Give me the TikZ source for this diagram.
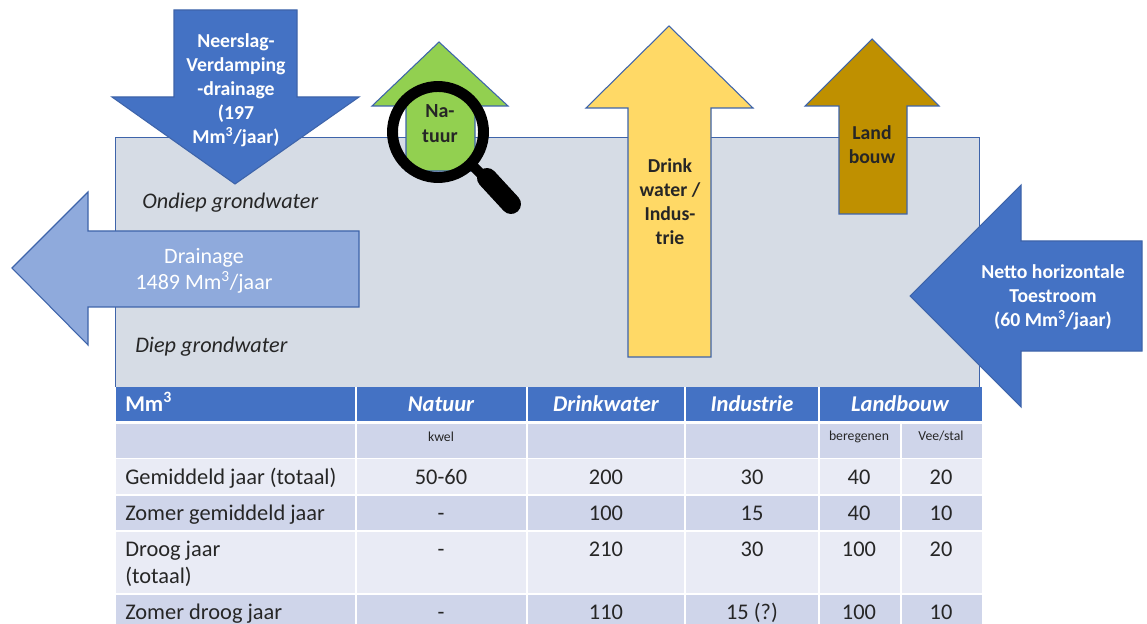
\documentclass[tikz,border=0pt]{standalone}
\usepackage{fontspec}
\setmainfont{Carlito}
\definecolor{blueA}{HTML}{4472C4}
\definecolor{edgeB}{HTML}{3E64AA}
\definecolor{blueL}{HTML}{8FAADC}
\definecolor{greyG}{HTML}{D6DCE5}
\definecolor{greenN}{HTML}{92D050}
\definecolor{yellowD}{HTML}{FFD966}
\definecolor{brownL}{HTML}{BF9000}
\definecolor{rowA}{HTML}{CFD5EA}
\definecolor{rowB}{HTML}{E9EBF5}
\definecolor{inkT}{HTML}{262626}
\tikzset{
 flow/.style={draw=edgeB,line width=0.8pt,line join=miter},
 lab/.style={align=center,font=\fontsize{14.8}{18}\selectfont\bfseries,inner sep=0,text=white},
 labd/.style={lab,text=inkT},
 capt/.style={font=\fontsize{16.7}{20}\selectfont\itshape,inner sep=0,text=inkT},
 hd/.style={font=\fontsize{16.9}{20}\selectfont\bfseries\itshape,text=white,inner sep=0},
 cellt/.style={font=\fontsize{16.8}{20}\selectfont,text=inkT,inner sep=0,anchor=base},
 rowl/.style={font=\fontsize{16.8}{20.25}\selectfont,text=inkT,inner sep=0,anchor=base west,align=left},
 smallt/.style={font=\fontsize{10.3}{12}\selectfont,text=inkT,inner sep=0,anchor=base},
}
\begin{document}
\begin{tikzpicture}[x=0.75pt,y=-0.75pt]
\useasboundingbox (0,0) rectangle (1147,624);
\fill[white] (0,0) rectangle (1147,624);
% ground water block
\draw[fill=greyG,draw=edgeB,line width=0.7pt] (115,387) -- (115,137) -- (979,137) -- (979,387);
% arrows
\draw[flow,fill=blueA] (174,10) -- (297,10) -- (297,97) -- (359,97) -- (235,184) -- (112,97) -- (174,97) -- cycle;
\draw[flow,fill=greenN] (439,42) -- (508,106) -- (475,106) -- (475,171) -- (406,171) -- (406,106) -- (372,106) -- cycle;
\draw[flow,fill=yellowD] (669,26) -- (753,108) -- (711,108) -- (711,357) -- (628,357) -- (628,108) -- (586,108) -- cycle;
\draw[flow,fill=brownL] (872,39) -- (939,106) -- (907,106) -- (907,214) -- (839,214) -- (839,106) -- (805,106) -- cycle;
\draw[flow,fill=blueL] (12,268) -- (88,192) -- (88,231) -- (359,231) -- (359,307) -- (88,307) -- (88,345) -- cycle;
\draw[flow,fill=blueA] (910,296) -- (1021,185) -- (1021,241) -- (1142,241) -- (1142,351) -- (1021,351) -- (1021,407) -- cycle;
% magnifier
\draw[black,line width=8.2pt] (438,132) circle (45.5);
\draw[black,line width=7.5pt,line cap=butt] (472,165) -- (490,183);
\draw[black,line width=15pt,line cap=round] (487,178) -- (511,204);
% labels on arrows
\node[lab] (neerslag) at (236,90.5) {Neerslag-\\Verdamping\\-drainage\\(197\\Mm\textsuperscript{3}/jaar)};
\node[labd,font=\fontsize{15}{18.5}\selectfont\bfseries] (natuur) at (440,123.5) {Na-\\tuur};
\node[labd] (drink) at (670,202) {Drink\\water /\\Indus-\\trie};
\node[labd] (land) at (872,145) {Land\\bouw};
\node[lab,font=\fontsize{16.5}{19.5}\selectfont] (drain) at (204,271) {Drainage\\1489 Mm\textsuperscript{3}/jaar};
\node[lab] (netto) at (1053,297) {Netto horizontale\\Toestroom\\(60 Mm\textsuperscript{3}/jaar)};
\node[capt,anchor=base west] (ondiep) at (142,209) {Ondiep grondwater};
\node[capt,anchor=base west] (diep) at (135,352) {Diep grondwater};
% table backgrounds
\foreach \xa/\xb in {116/355,357/526,528/684,686/818,820/982}{
  \fill[blueA] (\xa,387) rectangle (\xb,421);
}
\foreach \xa/\xb in {116/355,357/526,528/684,686/818,820/900,902/982}{
  \fill[rowA] (\xa,424) rectangle (\xb,458);
  \fill[rowB] (\xa,459) rectangle (\xb,494);
  \fill[rowA] (\xa,496) rectangle (\xb,530);
  \fill[rowB] (\xa,532) rectangle (\xb,593);
  \fill[rowA] (\xa,595) rectangle (\xb,624);
}
% header
\node[font=\fontsize{16.9}{20}\selectfont\bfseries,text=white,inner sep=0,anchor=base west] (hmm) at (125,411) {Mm\textsuperscript{3}};
\node[hd,anchor=base] (h1) at (441,411) {Natuur};
\node[hd,anchor=base] (h2) at (606,411) {Drinkwater};
\node[hd,anchor=base] (h3) at (752,411) {Industrie};
\node[hd,anchor=base] (h4) at (900,411) {Landbouw};
\node[smallt] (s1) at (441,441) {kwel};
\node[smallt] (s2) at (859,440) {beregenen};
\node[smallt] (s3) at (941,440) {Vee/stal};
% rows
\node[rowl] (r1) at (125,484) {Gemiddeld jaar (totaal)};
\node[cellt] (a1) at (441,484) {50-60};
\node[cellt] (a2) at (606,484) {200};
\node[cellt] (a3) at (752,484) {30};
\node[cellt] (a4) at (859,484) {40};
\node[cellt] (a5) at (941,484) {20};
\node[rowl] (r2) at (125,520) {Zomer gemiddeld jaar};
\node[cellt] (b1) at (441,520) {-};
\node[cellt] (b2) at (606,520) {100};
\node[cellt] (b3) at (752,520) {15};
\node[cellt] (b4) at (859,520) {40};
\node[cellt] (b5) at (941,520) {10};
\node[rowl,anchor=north west] (r3) at (125,541) {Droog jaar\\(totaal)};
\node[cellt] (c1) at (441,556) {-};
\node[cellt] (c2) at (606,556) {210};
\node[cellt] (c3) at (752,556) {30};
\node[cellt] (c4) at (859,556) {100};
\node[cellt] (c5) at (941,556) {20};
\node[rowl] (r4) at (125,619) {Zomer droog jaar};
\node[cellt] (d1) at (441,619) {-};
\node[cellt] (d2) at (606,619) {110};
\node[cellt] (d3) at (752,619) {15 (?)};
\node[cellt] (d4) at (859,619) {100};
\node[cellt] (d5) at (941,619) {10};
\end{tikzpicture}
\end{document}
